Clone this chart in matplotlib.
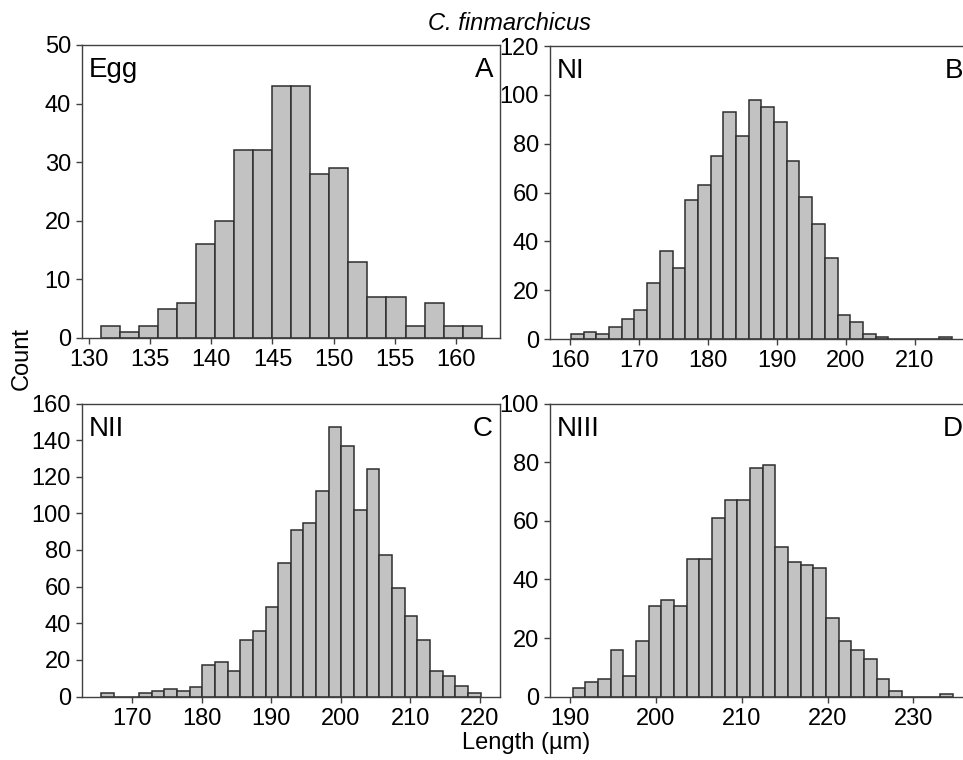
import matplotlib
matplotlib.use('Agg')
import matplotlib.pyplot as plt
import numpy as np

plt.rcParams['font.family'] = ['Liberation Sans', 'DejaVu Sans']

# ---------------- data ----------------
egg_counts = [2, 1, 2, 5, 6, 16, 20, 32, 32, 43, 43, 28, 29, 13, 7, 7, 2, 6, 2, 2]
egg_bin_start, egg_bin_width = 130.98, 1.556
egg_xticks = [130, 135, 140, 145, 150, 155, 160]
egg_yticks = [0, 10, 20, 30, 40, 50]

n1_counts = [2, 3, 2, 5, 8, 12, 23, 36, 29, 57, 63, 75, 93, 83, 98, 95, 89, 73, 58, 47,
             33, 10, 7, 2, 1, 0, 0, 0, 0, 1]
n1_bin_start, n1_bin_width = 160.15, 1.84
n1_xticks = [160, 170, 180, 190, 200, 210]
n1_yticks = [0, 20, 40, 60, 80, 100, 120]

n2_counts = [2, 0, 0, 2, 3, 4, 3, 5, 17, 19, 14, 31, 36, 49, 73, 91, 95, 112, 147, 137,
             102, 124, 77, 59, 44, 31, 14, 11, 6, 2]
n2_bin_start, n2_bin_width = 165.55, 1.818
n2_xticks = [170, 180, 190, 200, 210, 220]
n2_yticks = [0, 20, 40, 60, 80, 100, 120, 140, 160]

n3_counts = [3, 5, 6, 16, 7, 19, 31, 33, 31, 47, 47, 61, 67, 67, 78, 79, 51, 46, 45, 44,
             27, 19, 16, 13, 6, 2, 0, 0, 0, 1]
n3_bin_start, n3_bin_width = 190.31, 1.476
n3_xticks = [190, 200, 210, 220, 230]
n3_yticks = [0, 20, 40, 60, 80, 100]

stage_names = ['Egg', 'NI', 'NII', 'NIII']
panel_letters = ['A', 'B', 'C', 'D']

# ---------------- layout ----------------
W, H = 963, 760
fig = plt.figure(figsize=(W / 100, H / 100), dpi=100)


def axrect(l, r, t, b):
    return [l / W, 1 - b / H, (r - l) / W, (b - t) / H]


panels = [
    (egg_counts, egg_bin_start, egg_bin_width, egg_xticks, egg_yticks,
     (129.43, 163.6), axrect(82, 500, 45, 338)),
    (n1_counts, n1_bin_start, n1_bin_width, n1_xticks, n1_yticks,
     (157.1, 218.0), axrect(550, 970, 46, 339)),
    (n2_counts, n2_bin_start, n2_bin_width, n2_xticks, n2_yticks,
     (162.82, 222.87), axrect(82, 500, 403.5, 696.5)),
    (n3_counts, n3_bin_start, n3_bin_width, n3_xticks, n3_yticks,
     (187.67, 236.6), axrect(550, 970, 403.5, 696.7)),
]

FS = 17
FS_LAB = 20
spine_col = '#404040'

for (counts, start, width, xt, yt, xlim, rect), name, letter in zip(
        panels, stage_names, panel_letters):
    ax = fig.add_axes(rect)
    counts = np.asarray(counts)
    edges = start + width * np.arange(len(counts) + 1)
    ax.bar(edges[:-1], counts, width=width, align='edge',
           color='#c2c2c2', edgecolor='#2e2e2e', linewidth=1.1, zorder=2)
    ax.set_xlim(*xlim)
    ax.set_ylim(yt[0], yt[-1])
    ax.set_xticks(xt)
    ax.set_yticks(yt)
    ax.tick_params(axis='both', direction='out', length=4, width=1,
                   color=spine_col, labelsize=FS, pad=4)
    for s in ax.spines.values():
        s.set_color(spine_col)
        s.set_linewidth(1.0)
    ax.annotate(name, xy=(0, 1), xycoords='axes fraction',
                xytext=(7, -12), textcoords='offset pixels',
                ha='left', va='top', fontsize=FS_LAB)
    ax.annotate(letter, xy=(1, 1), xycoords='axes fraction',
                xytext=(-7, -12), textcoords='offset pixels',
                ha='right', va='top', fontsize=FS_LAB)

fig.text(510 / W, 1 - 24 / H, 'C. finmarchicus', ha='center', va='center',
         fontsize=FS, style='italic')
fig.text(22 / W, 1 - 358 / H, 'Count', ha='center', va='center',
         fontsize=FS, rotation=90)
fig.text(526 / W, 1 - 743 / H, 'Length (µm)', ha='center', va='center',
         fontsize=FS)

fig.savefig('out.png', dpi=100)
